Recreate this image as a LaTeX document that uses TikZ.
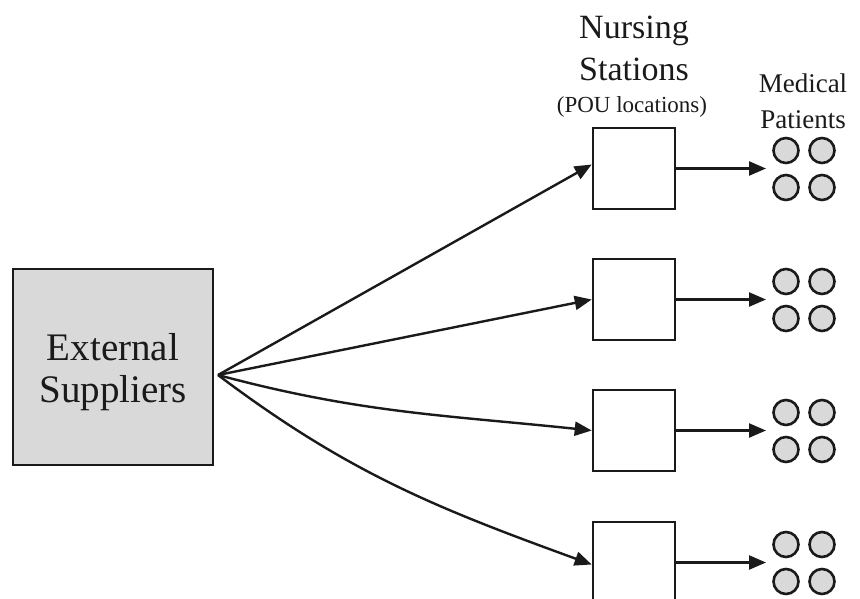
\documentclass[tikz,border=0pt]{standalone}
\usepackage{fontspec}
\setmainfont{Liberation Serif}
\usetikzlibrary{arrows.meta}
\definecolor{ink}{HTML}{1A1A1A}
\definecolor{lightfill}{HTML}{D9D9D9}
\tikzset{
  supplierbox/.style={draw=ink, line width=2.5pt, fill=lightfill, minimum width=200pt, minimum height=196pt, inner sep=0pt},
  stationbox/.style={draw=ink, line width=2.6pt, fill=white, minimum width=82pt, minimum height=81pt, inner sep=0pt},
  patient/.style={draw=ink, line width=2.6pt, fill=lightfill, circle, minimum size=25pt, inner sep=0pt},
  flow/.style={draw=ink, line width=2.4pt, -{Triangle[length=17pt,width=14pt]}},
  label/.style={anchor=base, inner sep=0pt, text=ink}
}
\begin{document}
\begin{tikzpicture}[x=1pt,y=-1pt]
\useasboundingbox (0,0) rectangle (860,598);
\node[supplierbox] (ext) at (113,367) {};
\node[label,font=\fontsize{39}{42}\selectfont] (ext1) at (113,360) {External};
\node[label,font=\fontsize{39}{42}\selectfont] (ext2) at (113,402) {Suppliers};
\coordinate (src) at (218,375);

\node[label,font=\fontsize{34}{40}\selectfont] (ns1) at (634,38) {Nursing};
\node[label,font=\fontsize{34}{40}\selectfont] (ns2) at (634,80) {Stations};
\node[label,font=\fontsize{23}{26}\selectfont] (pou) at (632,112) {(POU locations)};
\node[label,font=\fontsize{27}{30}\selectfont] (mp1) at (803,92) {Medical};
\node[label,font=\fontsize{27}{30}\selectfont] (mp2) at (803,128) {Patients};

\foreach \i/\y in {1/168.5,2/299.5,3/430.5,4/562.5}{
  \node[stationbox] (b\i) at (634,\y) {};
  \coordinate (g\i) at (804,\y);
  \node[patient] (p\i a) at (786,\y-18) {};
  \node[patient] (p\i b) at (822,\y-18) {};
  \node[patient] (p\i c) at (786,\y+19) {};
  \node[patient] (p\i d) at (822,\y+19) {};
  \coordinate (t\i) at (766,\y);
  \draw[flow] (b\i.east) -- (t\i);
}
\draw[flow] (src) -- ([yshift=4pt]b1.west);
\draw[flow] (src) -- (b2.west);
\draw[flow] (src) to[out=-15,in=174] (b3.west);
\draw[flow] (src) to[out=-37,in=160] ([yshift=-2pt]b4.west);
\end{tikzpicture}
\end{document}
